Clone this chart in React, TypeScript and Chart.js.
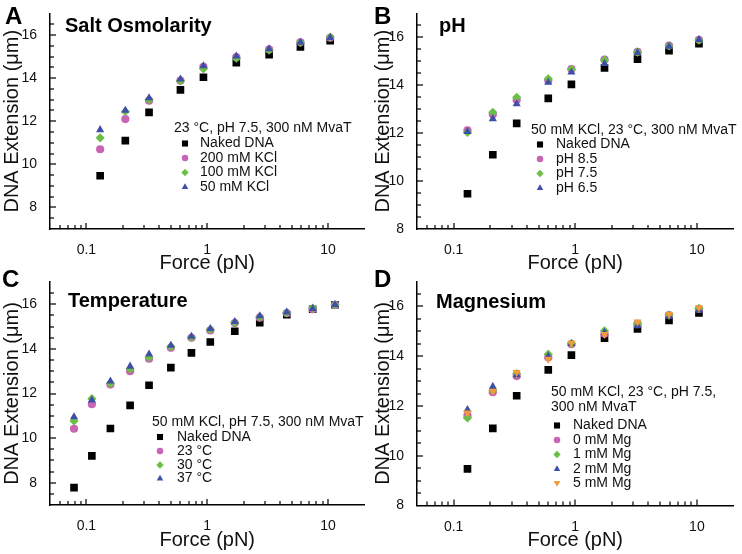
import React, { useEffect, useRef } from 'react';
import { Chart, registerables } from 'chart.js';
import { drawPoint } from 'chart.js/helpers';

Chart.register(...registerables);

const FONT = '"Liberation Sans", Arial, Helvetica, sans-serif';

// ---------- data ----------
const forceStd = [0.13, 0.21, 0.33, 0.6, 0.93, 1.74, 3.25, 5.9, 10.4];
const forceTemp = [0.079, 0.111, 0.158, 0.23, 0.33, 0.5, 0.74, 1.06, 1.69, 2.72, 4.55, 7.45, 11.4];

const nakedDNA = [9.47, 11.1, 12.41, 13.45, 14.04, 14.72, 15.09, 15.44, 15.74];

// A: salt
const kcl200 = [10.7, 12.1, 12.95, 13.88, 14.52, 14.97, 15.33, 15.66, 15.87];
const kcl100 = [11.23, 12.45, 13.0, 13.88, 14.43, 14.92, 15.3, 15.65, 15.9];
const kcl50 = [11.6, 12.5, 13.08, 13.95, 14.56, 15.02, 15.35, 15.66, 15.88];

// B: pH
const ph85 = [12.12, 12.78, 13.38, 14.2, 14.68, 15.07, 15.4, 15.66, 15.9];
const ph75 = [12.03, 12.87, 13.5, 14.27, 14.66, 15.05, 15.38, 15.64, 15.88];
const ph65 = [12.06, 12.6, 13.22, 14.12, 14.55, 14.9, 15.36, 15.62, 15.9];

// C: temperature
const nakedDNATemp = [7.78, 9.2, 10.43, 11.47, 12.37, 13.16, 13.82, 14.31, 14.79, 15.18, 15.53, 15.78, 15.98];
const temp23 = [10.42, 11.52, 12.4, 13.0, 13.56, 14.05, 14.5, 14.83, 15.16, 15.4, 15.6, 15.78, 15.98];
const temp30 = [10.77, 11.77, 12.45, 13.1, 13.62, 14.1, 14.52, 14.87, 15.18, 15.43, 15.62, 15.83, 15.98];
const temp37 = [10.95, 11.7, 12.55, 13.22, 13.76, 14.16, 14.56, 14.91, 15.22, 15.48, 15.65, 15.8, 15.98];

// D: magnesium
const mg0 = [11.62, 12.55, 13.2, 13.95, 14.48, 14.9, 15.3, 15.65, 15.9];
const mg1 = [11.52, 12.62, 13.3, 14.08, 14.5, 15.02, 15.3, 15.65, 15.92];
const mg2 = [11.85, 12.78, 13.25, 14.0, 14.5, 14.95, 15.22, 15.6, 15.85];
const mg5 = [11.72, 12.6, 13.35, 13.88, 14.52, 14.88, 15.38, 15.68, 15.95];

const xTickValues = [0.1, 1, 10];
const yTickValues = [8, 10, 12, 14, 16];
const X_MIN = 0.05;
const X_MAX = 20;
const Y_MAX = 17;

// ---------- styles ----------
type Mark = { style: string; color: string; radius: number; rotation?: number };
const SQUARE: Mark = { style: 'rect', color: '#000000', radius: 5.4 };
const CIRCLE: Mark = { style: 'circle', color: '#c864b4', radius: 4.1 };
const DIAMOND: Mark = { style: 'rectRot', color: '#6cbf46', radius: 4.6 };
const TRIANGLE: Mark = { style: 'triangle', color: '#3f4fa8', radius: 4.7 };
const TRIANGLE_DOWN: Mark = { style: 'triangle', color: '#f29b38', radius: 4.7, rotation: 180 };

type Series = { label: string; values: number[]; mark: Mark };

type PanelDef = {
  letter: string;
  title: string;
  header: string[];
  x: number[];
  series: Series[];
  yMin: number;
  left: number; top: number; w: number; h: number;
  yAxisW: number; xAxisH: number; padTop: number; padRight: number;
  letterX: number; letterY: number; titleX: number; titleY: number;
  legX: number; legY: number[]; markX: number; textX: number; entryY: number[];
};

const panels: PanelDef[] = [
  {
    letter: 'A', title: 'Salt Osmolarity', header: ['23 °C, pH 7.5, 300 nM MvaT'], x: forceStd, yMin: 7,
    series: [
      { label: 'Naked DNA', values: nakedDNA, mark: SQUARE },
      { label: '200 mM KCl', values: kcl200, mark: CIRCLE },
      { label: '100 mM KCl', values: kcl100, mark: DIAMOND },
      { label: '50 mM KCl', values: kcl50, mark: TRIANGLE },
    ],
    left: 0, top: 0, w: 371, h: 277, yAxisW: 50, xAxisH: 48, padTop: 7, padRight: 6.5,
    letterX: 5, letterY: 24, titleX: 65, titleY: 31.5,
    legX: 174, legY: [128.5], markX: 185, textX: 200, entryY: [143.5, 158, 172.5, 187],
  },
  {
    letter: 'B', title: 'pH', header: ['50 mM KCl, 23 °C, 300 nM MvaT'], x: forceStd, yMin: 8,
    series: [
      { label: 'Naked DNA', values: nakedDNA, mark: SQUARE },
      { label: 'pH 8.5', values: ph85, mark: CIRCLE },
      { label: 'pH 7.5', values: ph75, mark: DIAMOND },
      { label: 'pH 6.5', values: ph65, mark: TRIANGLE },
    ],
    left: 371, top: 0, w: 371, h: 277, yAxisW: 46, xAxisH: 48, padTop: 6, padRight: 8.5,
    letterX: 3, letterY: 24, titleX: 68, titleY: 32,
    legX: 160, legY: [130], markX: 169, textX: 185, entryY: [144.5, 159, 173.5, 188],
  },
  {
    letter: 'C', title: 'Temperature', header: ['50 mM KCl, pH 7.5, 300 nM MvaT'], x: forceTemp, yMin: 7,
    series: [
      { label: 'Naked DNA', values: nakedDNATemp, mark: SQUARE },
      { label: '23 °C', values: temp23, mark: CIRCLE },
      { label: '30 °C', values: temp30, mark: DIAMOND },
      { label: '37 °C', values: temp37, mark: TRIANGLE },
    ],
    left: 0, top: 260, w: 371, h: 294, yAxisW: 50, xAxisH: 49, padTop: 22, padRight: 6.5,
    letterX: 2, letterY: 27, titleX: 68, titleY: 47,
    legX: 152, legY: [162.5], markX: 160, textX: 177, entryY: [177, 191, 205, 218.5],
  },
  {
    letter: 'D', title: 'Magnesium', header: ['50 mM KCl, 23 °C, pH 7.5,', '300 nM MvaT'], x: forceStd, yMin: 8,
    series: [
      { label: 'Naked DNA', values: nakedDNA, mark: SQUARE },
      { label: '0 mM Mg', values: mg0, mark: CIRCLE },
      { label: '1 mM Mg', values: mg1, mark: DIAMOND },
      { label: '2 mM Mg', values: mg2, mark: TRIANGLE },
      { label: '5 mM Mg', values: mg5, mark: TRIANGLE_DOWN },
    ],
    left: 371, top: 260, w: 371, h: 294, yAxisW: 46, xAxisH: 48.5, padTop: 21.5, padRight: 8.5,
    letterX: 3, letterY: 27, titleX: 65, titleY: 48,
    legX: 180, legY: [132, 147.5], markX: 186, textX: 202, entryY: [165.5, 180, 194.5, 209, 223],
  },
];

function drawTicks(chart: any, p: PanelDef) {
  const ctx: CanvasRenderingContext2D = chart.ctx;
  const xs = chart.scales.x;
  const ys = chart.scales.y;
  const ca = chart.chartArea;
  ctx.save();
  ctx.fillStyle = '#000';
  for (let e = -2; e <= 1; e++) {
    for (let k = 1; k <= 9; k++) {
      const v = k * Math.pow(10, e);
      if (v <= X_MIN * 1.001 || v >= X_MAX * 0.999) continue;
      const px = Math.round(xs.getPixelForValue(v));
      const len = k === 1 ? 6 : 4;
      ctx.fillRect(px - 0.6, ca.bottom - len, 1.2, len);
    }
  }
  for (let i = Math.ceil(p.yMin * 2); i < Y_MAX * 2; i++) {
    const v = i / 2;
    if (v <= p.yMin) continue;
    const py = Math.round(ys.getPixelForValue(v));
    const len = i % 4 === 0 ? 6 : 4;
    ctx.fillRect(ca.left, py - 0.6, len, 1.2);
  }
  ctx.restore();
}

function decorPlugin(p: PanelDef) {
  return {
    id: 'decor' + p.letter,
    afterDatasetsDraw(chart: any) {
      drawTicks(chart, p);
    },
    afterDraw(chart: any) {
      const ctx: CanvasRenderingContext2D = chart.ctx;
      ctx.save();
      // panel letter and title
      ctx.fillStyle = '#000';
      ctx.textAlign = 'left';
      ctx.textBaseline = 'alphabetic';
      ctx.font = `bold 24px ${FONT}`;
      ctx.fillText(p.letter, p.letterX, p.letterY);
      ctx.font = `bold 20px ${FONT}`;
      ctx.fillText(p.title, p.titleX, p.titleY);

      // legend
      ctx.font = `14px ${FONT}`;
      ctx.textBaseline = 'middle';
      ctx.fillStyle = '#111';
      p.header.forEach((line, i) => ctx.fillText(line, p.legX, p.legY[i]));
      chart.data.datasets.forEach((ds: any, i: number) => {
        const y = p.entryY[i];
        ctx.fillStyle = ds.backgroundColor;
        drawPoint(ctx, {
          pointStyle: ds.pointStyle,
          rotation: ds.pointRotation || 0,
          radius: ds.pointRadius * 0.8,
          borderWidth: 0,
        } as any, p.markX, y);
        ctx.fillStyle = '#111';
        ctx.fillText(ds.label, p.textX, y);
      });
      ctx.restore();
    },
  };
}

function Panel({ p }: { p: PanelDef }) {
  const ref = useRef<HTMLCanvasElement>(null);
  useEffect(() => {
    const n = p.series.length;
    const chart = new Chart(ref.current as HTMLCanvasElement, {
      type: 'scatter',
      data: {
        datasets: p.series.map((s, i) => ({
          label: s.label,
          data: s.values.map((v, j) => ({ x: p.x[j], y: v })),
          pointStyle: s.mark.style as any,
          pointRotation: s.mark.rotation || 0,
          pointRadius: s.mark.radius,
          pointBorderWidth: 0,
          backgroundColor: s.mark.color,
          borderColor: s.mark.color,
          showLine: false,
          order: n - 1 - i,
        })),
      },
      options: {
        responsive: false,
        animation: false,
        devicePixelRatio: 1,
        layout: { padding: { top: p.padTop, right: p.padRight, left: 0, bottom: 0 } },
        plugins: { legend: { display: false }, tooltip: { enabled: false } },
        scales: {
          x: {
            type: 'logarithmic',
            min: X_MIN,
            max: X_MAX,
            grid: { display: false },
            border: { display: true, color: '#000', width: 1.5 },
            afterBuildTicks: (s: any) => { s.ticks = xTickValues.map((v) => ({ value: v })); },
            afterFit: (s: any) => { s.height = p.xAxisH; },
            ticks: {
              autoSkip: false,
              maxRotation: 0,
              padding: 5,
              color: '#111',
              font: { family: FONT, size: 14 },
              callback: (v: any) => String(Number(v)),
            },
            title: {
              display: true,
              text: 'Force (pN)',
              color: '#111',
              font: { family: FONT, size: 20 },
              padding: { top: 0, bottom: 2 },
            },
          },
          y: {
            type: 'linear',
            min: p.yMin,
            max: Y_MAX,
            grid: { display: false },
            border: { display: true, color: '#000', width: 1.5 },
            afterBuildTicks: (s: any) => { s.ticks = yTickValues.map((v) => ({ value: v })); },
            afterFit: (s: any) => { s.width = p.yAxisW; },
            ticks: {
              padding: 5,
              color: '#111',
              font: { family: FONT, size: 14 },
              callback: (v: any) => String(v),
            },
            title: {
              display: true,
              text: 'DNA Extension (μm)',
              color: '#111',
              font: { family: FONT, size: 20 },
              padding: { top: 0, bottom: 0 },
            },
          },
        },
      } as any,
      plugins: [decorPlugin(p)],
    });
    return () => chart.destroy();
  }, [p]);
  return (
    <canvas
      ref={ref}
      width={p.w}
      height={p.h}
      style={{ position: 'absolute', left: p.left, top: p.top, width: p.w, height: p.h }}
    />
  );
}

export default function App() {
  return (
    <div style={{ position: 'absolute', left: 0, top: 0, width: 742, height: 554, background: '#fff', overflow: 'hidden' }}>
      {panels.map((p) => <Panel key={p.letter} p={p} />)}
    </div>
  );
}
